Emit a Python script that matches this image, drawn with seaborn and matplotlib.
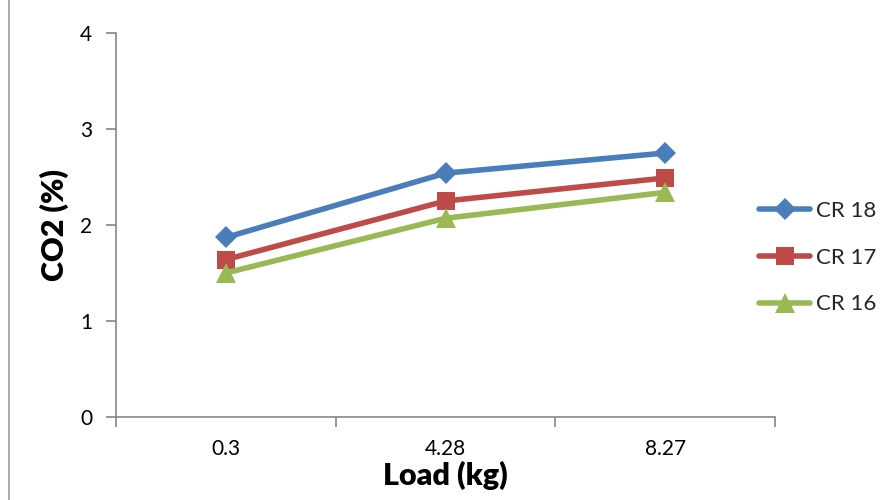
import matplotlib
matplotlib.use("Agg")
import matplotlib.pyplot as plt
import seaborn as sns
import pandas as pd
import numpy as np
from matplotlib.lines import Line2D

loads = ["0.3", "4.28", "8.27"]
cr18 = [1.87, 2.54, 2.75]
cr17 = [1.64, 2.25, 2.49]
cr16 = [1.50, 2.07, 2.34]
series_names = ["CR 18", "CR 17", "CR 16"]
colors = ["#4A7EBB", "#BE4B48", "#98B954"]
markers = ["D", "s", "^"]
msizes = [11, 13, 14]

sns.set_theme(style="white")
plt.rcParams['font.family'] = ['Lato', 'DejaVu Sans']

fig = plt.figure(figsize=(8.93, 5.0), dpi=100)
ax = fig.add_axes([116/893, 83/500, (775-116)/893, (417-33)/500])

pos = np.arange(len(loads))
rows = []
for name, vals in zip(series_names, [cr18, cr17, cr16]):
    for p, v in zip(pos, vals):
        rows.append({"x": p, "y": v, "s": name})
df = pd.DataFrame(rows)

for name, c, m, ms in zip(series_names, colors, markers, msizes):
    sub = df[df["s"] == name]
    sns.lineplot(data=sub, x="x", y="y", ax=ax, color=c, linewidth=4,
                 marker=m, markersize=ms, markeredgewidth=0, label=name,
                 legend=False)

ax.set_xlim(-0.5, 2.5)
ax.set_ylim(0, 4)
ax.set_yticks([0, 1, 2, 3, 4])
ax.set_xticks(pos)
ax.set_xticklabels(loads)
ax.set_xticks([-0.5, 0.5, 1.5, 2.5], minor=True)
ax.tick_params(axis='x', which='major', length=0, pad=16, labelsize=15, colors='black')
ax.tick_params(axis='x', which='minor', length=7, width=1.2, color='#868686', direction='out', bottom=True)
ax.tick_params(axis='y', length=7, width=1.2, color='#868686', direction='out', labelsize=15, pad=10, left=True)
for lbl in ax.get_yticklabels() + ax.get_xticklabels():
    lbl.set_color('black')

for s in ['top', 'right']:
    ax.spines[s].set_visible(False)
for s in ['left', 'bottom']:
    ax.spines[s].set_color('#868686')
    ax.spines[s].set_linewidth(1.2)

ax.set_xlabel("Load (kg)", fontsize=22, fontweight='heavy', labelpad=1, color='black')
ax.set_ylabel("CO2 (%)", fontsize=22, fontweight='heavy', labelpad=8, color='black')

handles = [Line2D([0], [0], color=c, lw=4, marker=m, markersize=ms, markeredgewidth=0)
           for c, m, ms in zip(colors, markers, msizes)]
leg = fig.legend(handles, series_names, loc='upper left', bbox_to_anchor=(748/893, 1 - 190/500),
                 frameon=False, fontsize=16, handlelength=2.3, handletextpad=0.25,
                 labelspacing=1.2, borderpad=0)

# outer frame line on left
fig.add_artist(Line2D([9/893, 9/893], [0, 1], color='#A0A0A0', lw=1.2, transform=fig.transFigure))

fig.savefig("out.png", dpi=100)
